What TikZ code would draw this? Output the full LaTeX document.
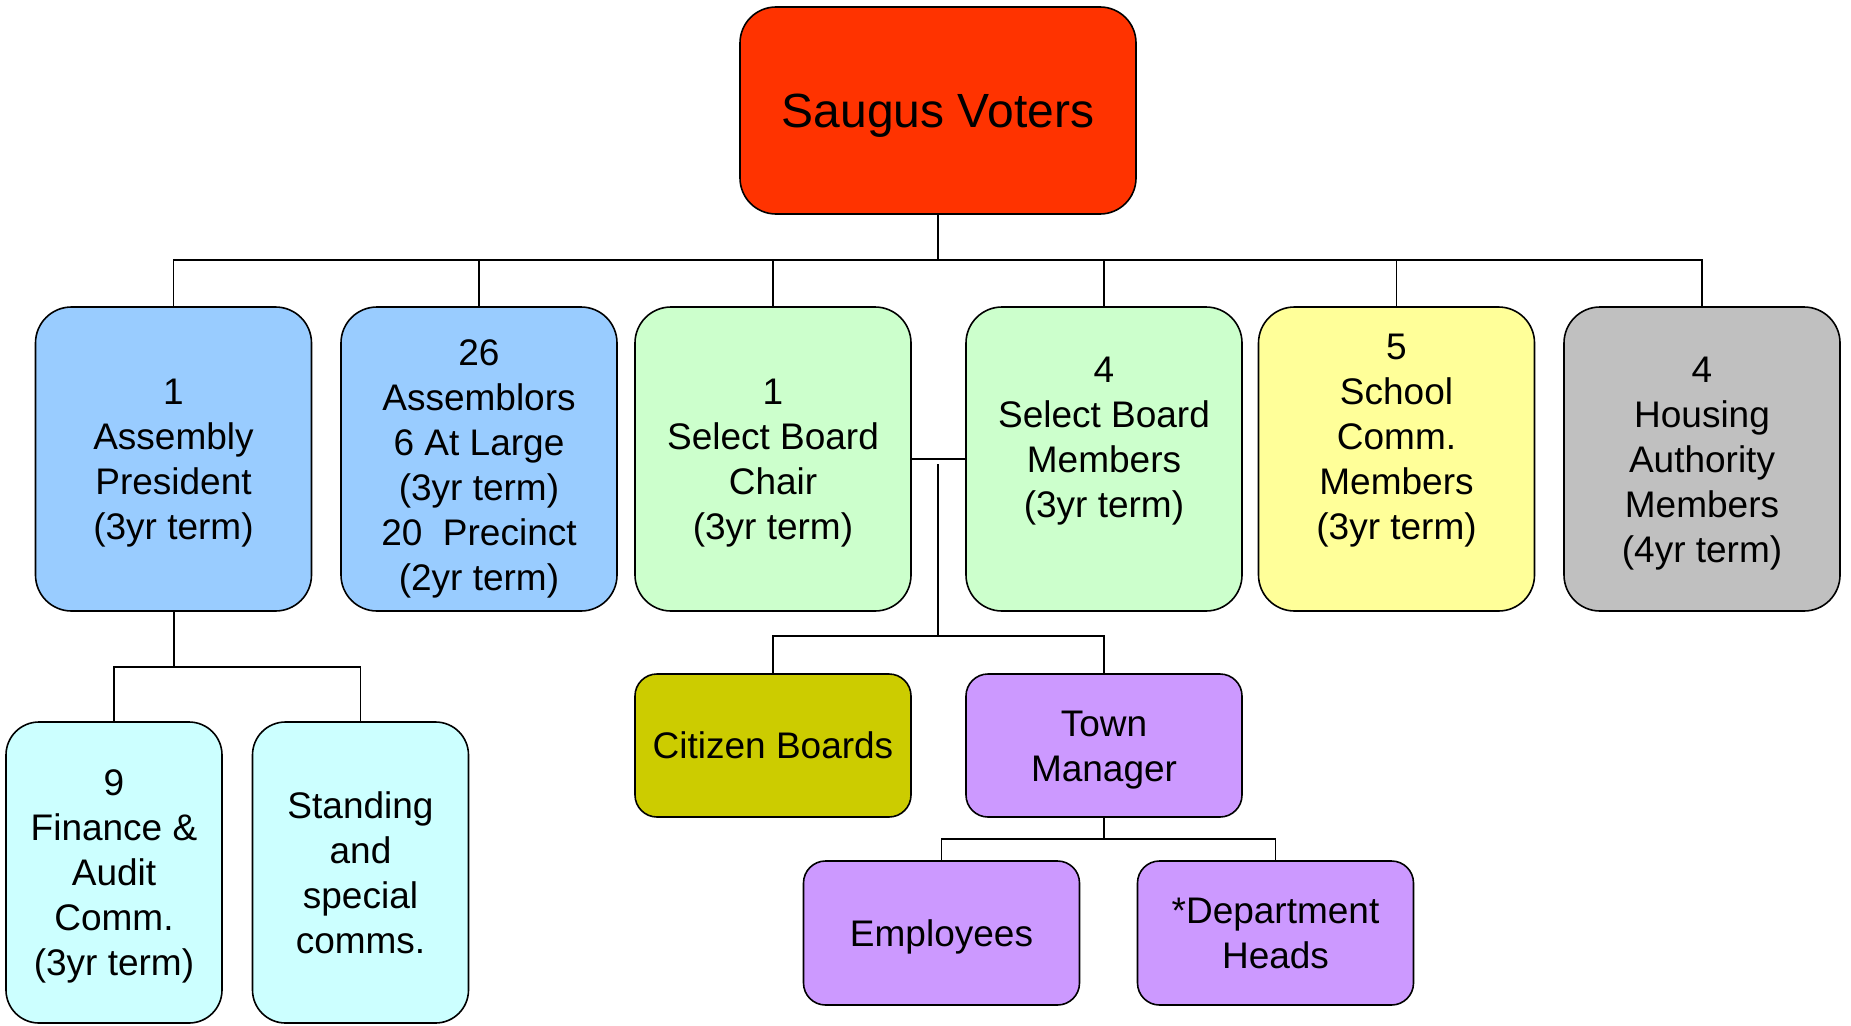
\documentclass[tikz,border=0pt]{standalone}
\usepackage{fontspec}
\setmainfont{Liberation Sans}
\definecolor{voterred}{HTML}{FF3300}
\definecolor{lblue}{HTML}{99CCFF}
\definecolor{lgreen}{HTML}{CCFFCC}
\definecolor{lyellow}{HTML}{FFFF99}
\definecolor{lgray}{HTML}{C0C0C0}
\definecolor{lcyan}{HTML}{CCFFFF}
\definecolor{olive}{HTML}{CCCC00}
\definecolor{lviolet}{HTML}{CC99FF}
\begin{document}
\begin{tikzpicture}[x=1pt,y=-1pt,
  lines/.code={\pgfmathsetmacro\myh{26.5+(#1-1)*45}\edef\tmp{\noexpand\tikzset{text height=\myh pt}}\tmp},
  box/.style={draw=black, line width=1.6pt, rounded corners=36pt, align=center, inner sep=0pt,
    font=\fontsize{37}{45}\selectfont, text depth=0pt},
  rowbox/.style={box, minimum width=276pt, minimum height=304pt},
  subbox/.style={box, minimum width=216pt, minimum height=301pt, rounded corners=33pt},
  smallbox/.style={box, minimum width=276pt, minimum height=143pt, rounded corners=22pt},
  link/.style={line width=1.3pt},
  buslink/.style={line width=2pt}]
\useasboundingbox (0,0) rectangle (1851,1025);

\node[box, fill=voterred, minimum width=396pt, minimum height=207pt, font=\fontsize{48}{56}\selectfont,
  text height=34.4pt] (V) at (938,110.5) {Saugus Voters};

\node[rowbox, fill=lblue, lines=4] (A) at (173.5,459) {1\\Assembly\\President\\(3yr term)};
\node[rowbox, fill=lblue, text height=263.5pt] (B) at (479,459) {26\\Assemblors\\6 At Large\\(3yr term)\\20\ \ Precinct\\(2yr term)};
\node[rowbox, fill=lgreen, lines=4] (C) at (773,459) {1\\Select Board\\Chair\\(3yr term)};
\node[rowbox, fill=lgreen, lines=5] (D) at (1104,459) {4\\Select Board\\Members\\(3yr term)\\\strut};
\node[rowbox, fill=lyellow, lines=6] (E) at (1396.5,459) {5\\School\\Comm.\\Members\\(3yr term)\\\strut};
\node[rowbox, fill=lgray, lines=5] (F) at (1702,459) {4\\Housing\\Authority\\Members\\(4yr term)};

\node[subbox, fill=lcyan, lines=5] (FIN) at (114,872.5) {9\\Finance \&\\Audit\\Comm.\\(3yr term)};
\node[subbox, fill=lcyan, lines=4] (STD) at (360.5,872.5) {Standing\\and\\special\\comms.};

\node[smallbox, fill=olive, lines=1] (CB) at (773,745.5) {Citizen Boards};
\node[smallbox, fill=lviolet, lines=2] (TM) at (1104,745.5) {Town\\Manager};
\node[smallbox, fill=lviolet, minimum height=144pt, lines=1] (EMP) at (941.5,933) {Employees};
\node[smallbox, fill=lviolet, minimum height=144pt, lines=2] (DH) at (1275.5,933) {*Department\\Heads};

% top bus
\coordinate (bus) at (938,260);
\coordinate (busL) at (173.5,260);
\coordinate (busR) at (1702,260);
\draw[link] (V.south) -- (bus);
\draw[buslink] (busL) -- (busR);
\foreach \n in {A,B,C,D,E,F} \draw[link] (bus) -| (\n.north);

% select board link
\draw[link] (C.east) -- (D.west);
\coordinate (sbtop) at (938,464);
\coordinate (sbbot) at (938,636);
\draw[link] (sbtop) -- (sbbot);
\draw[link] (sbbot) -| (CB.north);
\draw[link] (sbbot) -| (TM.north);

% town manager
\coordinate (tmj) at (1104,839);
\draw[link] (TM.south) -- (tmj);
\draw[link] (tmj) -| (EMP.north);
\draw[link] (tmj) -| (DH.north);

% assembly
\coordinate (asj) at (173.5,667);
\draw[buslink] (A.south) -- (asj);
\draw[link] (asj) -| (FIN.north);
\draw[link] (asj) -| (STD.north);
\end{tikzpicture}
\end{document}
